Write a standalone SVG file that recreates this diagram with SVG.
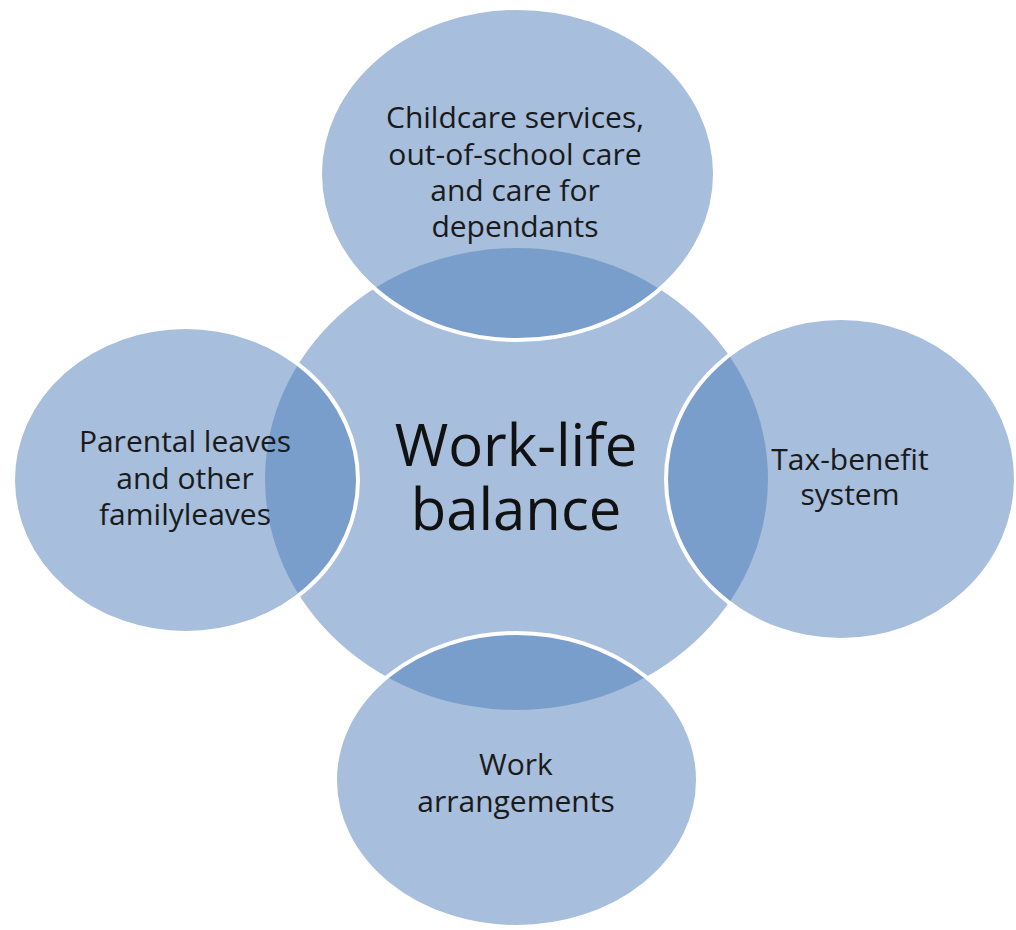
<svg xmlns="http://www.w3.org/2000/svg" width="1016" height="930" viewBox="0 0 1016 930">
  <style>
    .fill { fill: #a7bedc; }
    .lens { fill: #7a9ecb; }
    .edge { fill: none; stroke: #ffffff; stroke-width: 4; }
    .lbl { font-family: "Open Sans", "Noto Sans", sans-serif; font-size: 30px; fill: #1a1a1a; text-anchor: middle; }
    .big { font-family: "Open Sans", "Noto Sans", sans-serif; font-size: 58px; fill: #111111; text-anchor: middle; }
  </style>
  <defs>
    <ellipse id="centerShape" cx="516.5" cy="479" rx="251.5" ry="231"/>
    <clipPath id="clipTop"><ellipse cx="517.5" cy="174" rx="197.5" ry="166"/></clipPath>
    <clipPath id="clipLeft"><ellipse cx="185.5" cy="480" rx="172.5" ry="153"/></clipPath>
    <clipPath id="clipRight"><ellipse cx="841" cy="479" rx="175" ry="161"/></clipPath>
    <clipPath id="clipBottom"><ellipse cx="516.5" cy="780" rx="181.5" ry="147"/></clipPath>
  </defs>
  <rect width="1016" height="930" fill="#ffffff"/>

  <g id="center">
    <use href="#centerShape" class="fill"/>
  </g>

  <g id="top">
    <ellipse cx="517.5" cy="174" rx="197.5" ry="166" class="fill"/>
    <use href="#centerShape" class="lens" clip-path="url(#clipTop)"/>
    <ellipse cx="517.5" cy="174" rx="197.5" ry="166" class="edge"/>
    <text class="lbl" x="515" y="128">Childcare services,</text>
    <text class="lbl" x="515" y="164.5">out-of-school care</text>
    <text class="lbl" x="515" y="201">and care for</text>
    <text class="lbl" x="515" y="237">dependants</text>
  </g>

  <g id="left">
    <ellipse cx="185.5" cy="480" rx="172.5" ry="153" class="fill"/>
    <use href="#centerShape" class="lens" clip-path="url(#clipLeft)"/>
    <ellipse cx="185.5" cy="480" rx="172.5" ry="153" class="edge"/>
    <text class="lbl" x="185" y="452">Parental leaves</text>
    <text class="lbl" x="185" y="488.5">and other</text>
    <text class="lbl" x="185" y="525">familyleaves</text>
  </g>

  <g id="right">
    <ellipse cx="841" cy="479" rx="175" ry="161" class="fill"/>
    <use href="#centerShape" class="lens" clip-path="url(#clipRight)"/>
    <ellipse cx="841" cy="479" rx="175" ry="161" class="edge"/>
    <text class="lbl" x="850" y="470">Tax-benefit</text>
    <text class="lbl" x="850" y="505">system</text>
  </g>

  <g id="bottom">
    <ellipse cx="516.5" cy="780" rx="181.5" ry="147" class="fill"/>
    <use href="#centerShape" class="lens" clip-path="url(#clipBottom)"/>
    <ellipse cx="516.5" cy="780" rx="181.5" ry="147" class="edge"/>
    <text class="lbl" x="516" y="775">Work</text>
    <text class="lbl" x="516" y="812">arrangements</text>
  </g>

  <g id="center-label">
    <text class="big" x="516" y="466">Work-life</text>
    <text class="big" x="516" y="530">balance</text>
  </g>

  <g id="connectors"/>
</svg>
